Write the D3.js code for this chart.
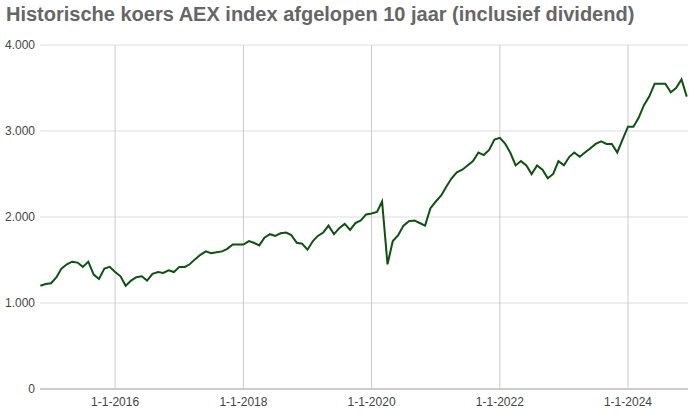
<!DOCTYPE html>
<html><head><meta charset="utf-8">
<script src="https://cdn.jsdelivr.net/npm/d3@7"></script>
<style>body{margin:0;background:#fff;font-family:Arial,"Liberation Sans",sans-serif}</style>
</head><body><svg id="c" width="695" height="415"></svg>
<script>
const title = "Historische koers AEX index afgelopen 10 jaar (inclusief dividend)";
const startMonth = "2014-11";
const values = [1200,1220,1230,1300,1400,1450,1480,1470,1420,1480,1330,1280,1400,1420,1360,
1310,1200,1260,1300,1310,1260,1340,1360,1350,1380,1360,1420,
1420,1450,1510,1560,1600,1580,1590,1600,1630,1680,1680,1680,
1720,1700,1670,1760,1800,1780,1810,1820,1790,1700,1690,1620,
1720,1780,1820,1900,1800,1870,1920,1850,1930,1960,2030,2040,
2060,2180,1450,1720,1790,1900,1950,1960,1930,1900,2100,2180,
2250,2350,2450,2520,2550,2600,2650,2750,2720,2780,2900,2920,
2850,2750,2600,2650,2600,2500,2600,2550,2450,2500,2650,2600,
2700,2750,2700,2750,2800,2850,2880,2850,2850,2750,2900,3050,
3050,3150,3300,3400,3550,3550,3550,3450,3500,3600,3400];
const yTicks = [0,1000,2000,3000,4000];
const xTicks = ["2016-01-01","2018-01-01","2020-01-01","2022-01-01","2024-01-01"];

const svg = d3.select("#c");
const parseM = d3.timeParse("%Y-%m");
const t0 = parseM(startMonth);
const data = values.map((v,i)=>({d:d3.timeMonth.offset(t0,i),v}));
const x = d3.scaleTime().domain([new Date(2014,9,30), new Date(2024,11,8)]).range([40,688]);
const y = d3.scaleLinear().domain([0,4000]).range([389,45]);
const fmt = v => d3.format(",")(v).replace(/,/g,".");

svg.append("text").attr("x",6).attr("y",21).attr("fill","#666").attr("font-size",20)
  .attr("font-weight","bold").text(title);

const g = svg.append("g");
yTicks.forEach(t=>{
  g.append("line").attr("x1",40).attr("x2",688).attr("y1",y(t)).attr("y2",y(t))
   .attr("stroke", t===0?"#999":"#ddd");
  g.append("text").attr("x",35).attr("y",y(t)+4).attr("text-anchor","end")
   .attr("font-size",12).attr("fill","#444").text(fmt(t));
});
xTicks.forEach(s=>{
  const d = d3.timeParse("%Y-%m-%d")(s);
  g.append("line").attr("x1",x(d)).attr("x2",x(d)).attr("y1",45).attr("y2",389).attr("stroke","#ccc");
  g.append("text").attr("x",x(d)).attr("y",406).attr("text-anchor","middle")
   .attr("font-size",12).attr("fill","#444").text(d3.timeFormat("%-d-%-m-%Y")(d));
});
g.append("path").datum(data).attr("fill","none").attr("stroke","#0d5210").attr("stroke-width",2)
 .attr("d",d3.line().x(d=>x(d.d)).y(d=>y(d.v)));
</script></body></html>
